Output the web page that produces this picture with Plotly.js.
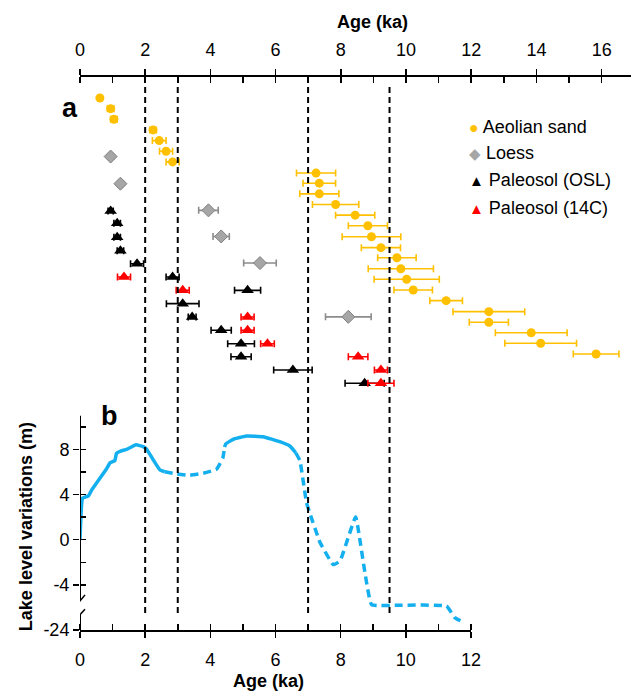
<!DOCTYPE html>
<html><head><meta charset="utf-8">
<script src="https://cdn.plot.ly/plotly-3.0.1.min.js"></script>
<style>html,body{margin:0;padding:0;background:#fff}#chart{width:631px;height:691px}</style>
</head><body><div id="chart"></div>
<script>
// ---------- Panel a: ages (ka) with 1-sigma errors, sample row order ----------
const ageAeolian = [0.61,0.94,1.04,2.24,2.43,2.64,2.84,7.24,7.34,7.34,7.84,8.44,8.83,8.94,9.23,9.72,9.84,10.02,10.22,11.23,12.54,12.54,13.84,14.13,15.83];
const errAeolian = [0.05,0.1,0.1,0.1,0.21,0.2,0.2,0.6,0.5,0.6,0.71,0.6,0.6,0.9,0.6,0.59,1.0,1.0,0.59,0.5,1.1,0.6,1.1,1.1,0.7];
const rowAeolian = [0,1,2,3,4,5,6,7.05,8,9,10,11,12,13.03,14.05,15,16.03,17.02,18.03,19.03,20.06,21.06,22.04,23.03,24.04];

const ageLoess = [0.94,1.24,3.94,4.33,5.52,8.23];
const errLoess = [0.08,0.08,0.3,0.25,0.5,0.7];
const rowLoess = [5.5,8.05,10.55,13.0,15.5,20.55];

const ageOSL = [0.94,1.14,1.14,1.24,1.75,2.84,5.14,3.15,3.44,4.33,4.94,4.94,6.53,8.73];
const errOSL = [0.08,0.1,0.1,0.1,0.2,0.2,0.4,0.5,0.12,0.31,0.41,0.31,0.59,0.6];
const rowOSL = [10.6,11.77,13.08,14.34,15.56,16.81,18.06,19.31,20.56,21.81,23.07,24.29,25.54,26.79];

const age14C = [1.35,3.15,5.14,5.14,5.75,8.53,9.23,9.23];
const err14C = [0.2,0.2,0.2,0.2,0.21,0.3,0.2,0.4];
const row14C = [16.81,18.06,20.56,21.81,23.07,24.29,25.54,26.79];

// ---------- Panel b: lake level variations (m), axis-break display values ----------
const lakeAge1 = [0,0.08,0.26,0.36,0.82,0.92,1.07,1.12,1.25,1.43,1.72,1.94,2.05,2.25,2.45,2.6];
const lakeLev1 = [0,3.68,3.88,4.4,6.3,6.8,7.0,7.65,7.85,8.0,8.4,8.24,8.0,7.06,6.18,6.02];
const lakeAge2 = [2.6,2.97,3.37,3.78,4.19,4.38,4.44];
const lakeLev2 = [6.02,5.82,5.7,5.88,6.24,7.2,8.2];
const lakeAge3 = [4.44,4.47,4.7,5.11,5.62,6.13,6.44,6.62];
const lakeLev3 = [8.2,8.47,8.89,9.18,9.12,8.68,8.3,7.7];
const lakeAge4 = [6.62,6.75,6.95,7.06,7.36,7.77,7.98,8.46,8.95,9.82,11.25,11.5,11.76];
const lakeLev4 = [7.7,7.0,3.3,2.3,-0.2,-2.2,-1.9,2.0,-5.75,-5.8,-5.88,-6.9,-7.3];

const yTickVals = [-8,-4,0,4,8];
const yTickText = ['-24','-4','0','4','8'];
const dashedAges = [2,3,7,9.5];

const legendNames = ['Aeolian sand','Loess','Paleosol (OSL)','Paleosol (14C)'];

// ---------- styles ----------
const FONT = "Arial, 'Liberation Sans', sans-serif";
const GOLD = '#FFC000', GREY = '#A6A6A6', BLUE = '#14AFEF';

function pts(x, y, err, sym, size, col, errCol, lineCol) {
  return {
    type:'scatter', mode:'markers', x:x, y:y, xaxis:'x', yaxis:'y',
    marker:{symbol:sym, size:size, color:col, line:{color:lineCol||col, width:lineCol?1:0}},
    error_x:{type:'data', array:err, visible:true, color:errCol, thickness:1.6, width:3.5},
    showlegend:false, hoverinfo:'x'
  };
}
function lake(x, y, dash) {
  return {type:'scatter', mode:'lines', x:x, y:y, xaxis:'x2', yaxis:'y2',
    line:{color:BLUE, width:3.5, dash:dash, shape:'spline', smoothing:0.3}, showlegend:false, hoverinfo:'skip'};
}

const data = [
  lake(lakeAge1, lakeLev1, 'solid'),
  lake(lakeAge2, lakeLev2, '8px,5px'),
  lake(lakeAge3, lakeLev3, 'solid'),
  lake(lakeAge4, lakeLev4, '8px,5px'),
  pts(ageAeolian, rowAeolian, errAeolian, 'circle', 9, GOLD, GOLD),
  pts(ageLoess, rowLoess, errLoess, 'diamond', 10, GREY, '#8C8C8C', '#7F7F7F'),
  pts(ageOSL, rowOSL, errOSL, 'triangle-up', 11, '#000000', '#000000'),
  pts(age14C, row14C, err14C, 'triangle-up', 11, '#FF0000', '#FF0000'),
  {type:'scatter', x:[], y:[], xaxis:'x3', yaxis:'y', showlegend:false},
  {type:'scatter', x:[], y:[], xaxis:'x4', yaxis:'y2', showlegend:false},
  {type:'scatter', x:[], y:[], xaxis:'x2', yaxis:'y3', showlegend:false}
];

const tickCommon = {tickcolor:'#000', tickwidth:1.5, ticklen:6, showgrid:false, zeroline:false};

const shapes = dashedAges.map(a => ({type:'line', xref:'x2', yref:'paper', x0:a, x1:a, y0:0.0307, y1:0.989,
  line:{color:'#000', width:2, dash:'6px,4px'}}));
// broken y axis line + break marks
shapes.push({type:'line', xref:'x2', yref:'y2', x0:0, x1:0, y0:11, y1:-5.43, line:{color:'#000', width:2}});
shapes.push({type:'line', xref:'x2', yref:'y2', x0:0, x1:0, y0:-6.63, y1:-8, line:{color:'#000', width:2}});
shapes.push({type:'line', xref:'x2', yref:'y2', xsizemode:'pixel', xanchor:0, x0:-5, x1:5, y0:-5.93, y1:-4.9, line:{color:'#000', width:1.5}});
shapes.push({type:'line', xref:'x2', yref:'y2', xsizemode:'pixel', xanchor:0, x0:-5, x1:5, y0:-7.11, y1:-6.16, line:{color:'#000', width:1.5}});

const legendSyms = [
  '<span style="color:#FFC000;font-size:16px">●</span>',
  '<span style="color:#A6A6A6;font-size:15px">◆</span>',
  '<span style="color:#000000;font-size:15px">▲</span>',
  '<span style="color:#FF0000;font-size:15px">▲</span>'
];
const legendY = [0.9096, 0.8626, 0.8137, 0.7631];

const annotations = legendNames.map((n,i) => ({xref:'paper', yref:'paper', x:0.703, y:legendY[i],
  xanchor:'left', yanchor:'middle', showarrow:false, text:legendSyms[i]+' '+n, font:{size:18, color:'#000'}}));
annotations.push(
  {xref:'paper', yref:'paper', x:0.53, y:1.0995, xanchor:'center', yanchor:'middle', showarrow:false,
   text:'<b>Age (ka)</b>', font:{size:18}},
  {xref:'paper', yref:'paper', x:0.343, y:-0.0922, xanchor:'center', yanchor:'middle', showarrow:false,
   text:'<b>Age (ka)</b>', font:{size:18}},
  {xref:'paper', yref:'paper', x:-0.098, y:0.186, xanchor:'center', yanchor:'middle', showarrow:false,
   textangle:-90, text:'<b>Lake level variations (m)</b>', font:{size:18}},
  {xref:'paper', yref:'paper', x:-0.018, y:0.944, xanchor:'center', yanchor:'middle', showarrow:false,
   text:'<b>a</b>', font:{size:27}},
  {xref:'paper', yref:'paper', x:0.0544, y:0.387, xanchor:'center', yanchor:'middle', showarrow:false,
   text:'<b>b</b>', font:{size:27}}
);

const layout = {
  width:631, height:691,
  margin:{l:80, r:0, t:77, b:61},
  paper_bgcolor:'#fff', plot_bgcolor:'rgba(0,0,0,0)',
  font:{family:FONT, color:'#000', size:18},
  showlegend:false,
  xaxis:Object.assign({domain:[0,1], range:[0,16.9], side:'top', anchor:'y', showline:true, linewidth:2, linecolor:'#000',
    ticks:'outside', tick0:0, dtick:2, tickfont:{size:18}, ticklabelstandoff:6,
    minor:{dtick:1, tick0:0, ticks:'inside', ticklen:6, tickwidth:1.5, tickcolor:'#000', showgrid:false}}, tickCommon),
  xaxis3:Object.assign({overlaying:'x', side:'top', anchor:'y', range:[0,16.9], ticks:'inside', tick0:0, dtick:2,
    showticklabels:false, showline:false}, tickCommon),
  yaxis:{domain:[0,1], range:[49.95,-1.97], visible:false, showgrid:false, zeroline:false},
  xaxis2:Object.assign({domain:[0,0.7096], range:[0,12], anchor:'y2', side:'bottom', showline:true, linewidth:2, linecolor:'#000',
    ticks:'outside', tick0:0, dtick:2, tickfont:{size:18}, ticklabelstandoff:6,
    minor:{dtick:1, tick0:0, ticks:'inside', ticklen:6, tickwidth:1.5, tickcolor:'#000', showgrid:false}}, tickCommon),
  xaxis4:Object.assign({overlaying:'x2', anchor:'y2', side:'bottom', range:[0,12], ticks:'inside', tick0:0, dtick:2,
    showticklabels:false, showline:false}, tickCommon),
  yaxis2:Object.assign({domain:[0,0.3879], range:[-8,11], anchor:'x2', side:'left', showline:false,
    ticks:'outside', tickvals:yTickVals, ticktext:yTickText, tickfont:{size:18},
    minor:{tickvals:[-2,2,6,10], ticks:'inside', ticklen:6, tickwidth:1.5, tickcolor:'#000', showgrid:false}}, tickCommon),
  yaxis3:Object.assign({overlaying:'y2', anchor:'x2', side:'left', range:[-8,11], ticks:'inside', tickvals:yTickVals,
    showticklabels:false, showline:false}, tickCommon),
  shapes:shapes,
  annotations:annotations
};

Plotly.newPlot('chart', data, layout, {staticPlot:true, displayModeBar:false});
</script></body></html>
